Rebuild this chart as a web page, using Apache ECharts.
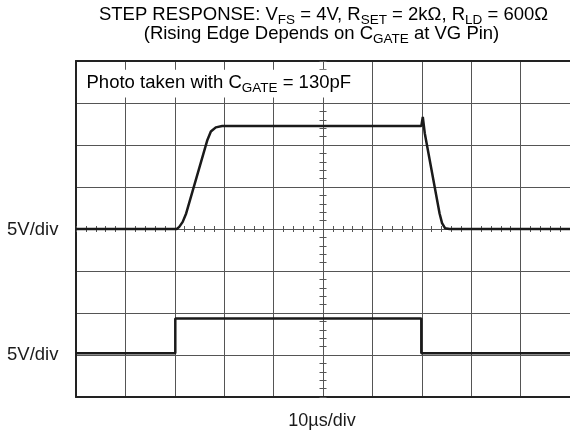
<!DOCTYPE html>
<html><head><meta charset="utf-8">
<script src="https://cdn.jsdelivr.net/npm/echarts@6/dist/echarts.min.js"></script>
<style>html,body{margin:0;padding:0;background:#fff}#c{width:570px;height:438px}</style>
</head><body><div id="c"></div>
<script>
// time in µs relative to screen centre (10 µs/div), amplitude in divisions
const ch1Time = [-50, -29.6, -29.1, -28.4, -27.7, -23.4, -22.7, -21.7, -20.4, 19.9, 20.2, 20.6, 23.6, 24.1, 24.7, 25.6, 50];
const ch1Div  = [0, 0, 0.05, 0.17, 0.37, 2.12, 2.32, 2.42, 2.45, 2.45, 2.67, 2.28, 0.37, 0.14, 0.02, 0, 0];
const ch2Time = [-50, -29.9, -29.9, 19.9, 19.9, 50];
const ch2Div  = [-2.96, -2.96, -2.13, -2.13, -2.96, -2.96];
const channelScales = ['5V/div', '5V/div'];
const timeScale = '10µs/div';
const titleLine1 = '{m|STEP RESPONSE: V}{s|FS}{m| = 4V, R}{s|SET}{m| = 2kΩ, R}{s|LD}{m| = 600Ω}';
const titleLine2 = '{m|(Rising Edge Depends on C}{s|GATE}{m| at VG Pin)}';
const photoNote = '{m|Photo taken with C}{s|GATE}{m| = 130pF}';
const xRange = [-50, 50];
const yRange = [-4, 4];

const FF = '"Liberation Sans", Arial, Helvetica, sans-serif';
const chart = echarts.init(document.getElementById('c'), null, {renderer: 'canvas'});
const zip = (a, b) => a.map((v, i) => [v, b[i]]);
const richT = {
  m: {fontSize: 18.5, lineHeight: 20, fontFamily: FF, color: '#1a1a1a'},
  s: {fontSize: 13.5, lineHeight: 8, verticalAlign: 'top', padding: [9, 0, 0, 0], fontFamily: FF, color: '#1a1a1a'}
};
const richP = {
  m: {fontSize: 18.5, lineHeight: 22, fontFamily: FF, color: '#1a1a1a'},
  s: {fontSize: 13.5, lineHeight: 8, verticalAlign: 'top', padding: [9.5, 0, 0, 0], fontFamily: FF, color: '#1a1a1a'}
};
const GRID = '#555';
const BORDER = '#222';
const tickX = (inside) => ({
  type: 'value', min: xRange[0], max: xRange[1], interval: 2, position: 'bottom',
  axisLine: {show: false, onZero: true, onZeroAxisIndex: 0},
  axisTick: {show: true, inside: inside, length: 3, lineStyle: {color: GRID, width: 1}},
  axisLabel: {show: false}, splitLine: {show: false}
});
const tickY = (inside) => ({
  type: 'value', min: yRange[0], max: yRange[1], interval: 0.2, position: 'left',
  axisLine: {show: false, onZero: true, onZeroAxisIndex: 0},
  axisTick: {show: true, inside: inside, length: 3.5, lineStyle: {color: GRID, width: 1}},
  axisLabel: {show: false}, splitLine: {show: false}
});

chart.setOption({
  animation: false,
  backgroundColor: '#fff',
  grid: {left: 76, top: 61, width: 497, height: 336},
  xAxis: [
    {type: 'value', min: xRange[0], max: xRange[1], interval: 10, position: 'bottom',
     axisLine: {show: true, onZero: false, lineStyle: {color: BORDER, width: 2}},
     axisTick: {show: false}, axisLabel: {show: false},
     splitLine: {show: true, lineStyle: {color: GRID, width: 1}}},
    {type: 'value', min: xRange[0], max: xRange[1], interval: 10, position: 'top',
     axisLine: {show: true, onZero: false, lineStyle: {color: BORDER, width: 2}},
     axisTick: {show: false}, axisLabel: {show: false}, splitLine: {show: false}},
    tickX(true), tickX(false)
  ],
  yAxis: [
    {type: 'value', min: yRange[0], max: yRange[1], interval: 1, position: 'left',
     axisLine: {show: true, onZero: false, lineStyle: {color: BORDER, width: 2}},
     axisTick: {show: false}, axisLabel: {show: false},
     splitLine: {show: true, lineStyle: {color: GRID, width: 1}}},
    tickY(true), tickY(false)
  ],
  series: [
    {type: 'line', name: 'CH1', xAxisIndex: 0, yAxisIndex: 0, data: zip(ch1Time, ch1Div),
     showSymbol: false, smooth: false, lineStyle: {color: '#1a1a1a', width: 2.5}, z: 5,
     markArea: {silent: true, itemStyle: {color: '#fff', opacity: 1},
       data: [[{xAxis: -49.8, yAxis: 3.79}, {xAxis: 9.8, yAxis: 3.13}]]}},
    {type: 'line', name: 'CH2', xAxisIndex: 0, yAxisIndex: 0, data: zip(ch2Time, ch2Div),
     showSymbol: false, lineStyle: {color: '#1a1a1a', width: 2.5}, z: 5}
  ],
  graphic: [
    {type: 'text', x: 323.5, y: 14.5, style: {text: titleLine1, rich: richT, align: 'center', verticalAlign: 'middle'}},
    {type: 'text', x: 321.5, y: 33.5, style: {text: titleLine2, rich: richT, align: 'center', verticalAlign: 'middle'}},
    {type: 'text', x: 86.5, y: 83, z: 100, style: {text: photoNote, rich: richP, align: 'left', verticalAlign: 'middle'}},
    {type: 'text', x: 7, y: 229.5, style: {text: channelScales[0], font: '18.5px ' + FF, fill: '#1a1a1a', align: 'left', verticalAlign: 'middle'}},
    {type: 'text', x: 7, y: 355, style: {text: channelScales[1], font: '18.5px ' + FF, fill: '#1a1a1a', align: 'left', verticalAlign: 'middle'}},
    {type: 'text', x: 322, y: 421.5, style: {text: timeScale, font: '18px ' + FF, fill: '#1a1a1a', align: 'center', verticalAlign: 'middle'}}
  ]
});
</script></body></html>
